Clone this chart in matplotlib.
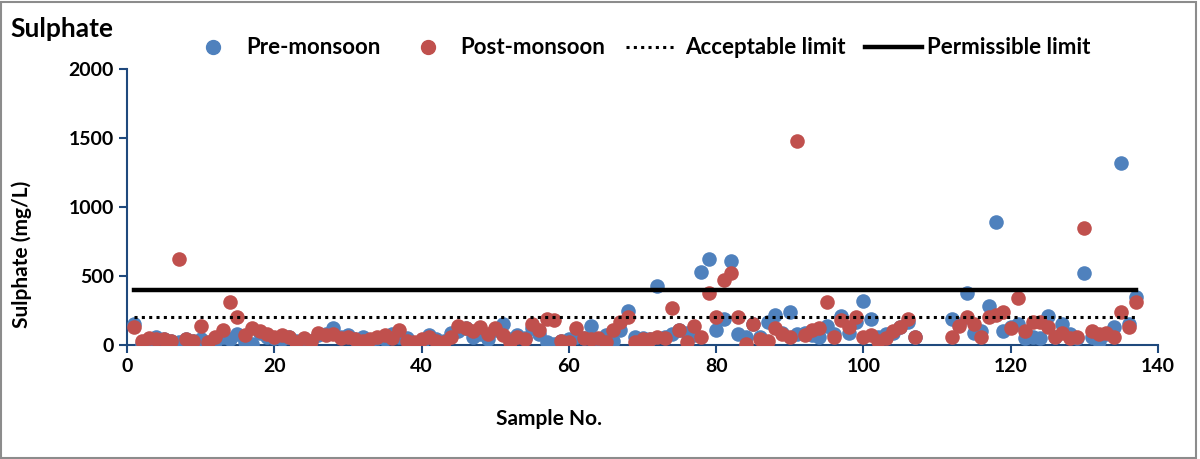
import numpy as np
import matplotlib
matplotlib.use("Agg")
import matplotlib.pyplot as plt
from matplotlib.lines import Line2D
from matplotlib.patches import Rectangle

nan = np.nan
samples = list(range(1, 138))
pre_monsoon = [150, 10, 40, 60, 40, 30, 20, 40, 30, 40,
               10, 20, 60, 40, 80, 20, 10, 90, 60, 50,
               40, 60, 30, 40, 30, 70, 80, 120, 60, 70,
               40, 60, 30, 50, 40, 80, 60, 50, 10, 20,
               70, 40, 30, 90, 100, 120, 60, 80, 40, 110,
               150, 40, 70, 50, 120, 80, 20, 5, 30, 40,
               60, 50, 140, 40, 70, 30, 110, 250, 60, 50,
               40, 430, 60, 80, 110, 90, 70, 530, 620, 110,
               190, 610, 80, 60, 150, 60, 170, 220, 90, 240,
               80, 90, 70, 60, 140, 80, 210, 90, 170, 320,
               190, 60, 80, 90, 130, 170, 60, nan, nan, nan,
               nan, 190, 150, 380, 90, 100, 280, 890, 100, 130,
               150, 50, 60, 50, 210, 60, 150, 80, 50, 520,
               60, 30, 80, 130, 1320, 150, 350]
post_monsoon = [130, 30, 50, 40, 40, 30, 625, 40, 30, 140,
                20, 60, 110, 310, 200, 70, 120, 100, 80, 60,
                70, 60, 20, 50, 30, 90, 70, 80, 50, 60,
                40, 30, 40, 60, 70, 50, 110, 30, 20, 40,
                60, 30, 20, 60, 140, 120, 100, 130, 80, 120,
                70, 20, 60, 40, 150, 110, 190, 180, 30, 20,
                120, 50, 40, 50, 20, 110, 170, 200, 20, 40,
                40, 60, 50, 270, 110, 20, 140, 60, 380, 200,
                470, 520, 200, 10, 150, 40, 30, 120, 80, 60,
                1480, 70, 110, 120, 310, 60, 180, 130, 200, 60,
                70, 30, 50, 100, 130, 190, 60, nan, nan, nan,
                nan, 60, 140, 200, 150, 60, 200, 220, 240, 120,
                340, 100, 170, 170, 130, 60, 90, 50, 60, 850,
                100, 80, 90, 60, 240, 130, 310]
acceptable_limit = 200
permissible_limit = 400
limit_x = [1, 137]
legend_labels = ['Pre-monsoon', 'Post-monsoon', 'Acceptable limit', 'Permissible limit']

plt.rcParams['font.family'] = ['Lato', 'DejaVu Sans']
plt.rcParams['font.weight'] = 'bold'

W, H = 1200, 459
fig = plt.figure(figsize=(W / 100, H / 100), dpi=100)
ax = fig.add_axes([127 / W, (H - 345) / H, 1031 / W, 276 / H])

blue = '#4F81BD'
red = '#C0504D'
spine_c = '#1F497D'
msize = 110

ax.scatter(samples, pre_monsoon, s=msize, color=blue, zorder=3, linewidths=0)
ax.scatter(samples, post_monsoon, s=msize, color=red, zorder=4, linewidths=0)
dot_style = (0, (1, 1.4))
ax.plot(limit_x, [acceptable_limit] * 2, color='black', lw=2.2,
        linestyle=dot_style, zorder=5)
ax.plot(limit_x, [permissible_limit] * 2, color='black', lw=3.2, zorder=5)

ax.set_xlim(0, 140)
ax.set_ylim(0, 2000)
ax.set_xticks(range(0, 141, 20))
ax.set_yticks(range(0, 2001, 500))
for s in ['top', 'right']:
    ax.spines[s].set_visible(False)
for s in ['left', 'bottom']:
    ax.spines[s].set_color(spine_c)
    ax.spines[s].set_linewidth(1.5)
ax.tick_params(axis='both', direction='out', length=6, width=1.5,
               color=spine_c, labelsize=14)
for lbl in ax.get_xticklabels() + ax.get_yticklabels():
    lbl.set_fontweight('bold')

ax.set_ylabel('Sulphate (mg/L)', fontsize=15, fontweight='bold', va='center', ha='center')
ax.yaxis.set_label_coords((22 - 127) / 1031, (345 - 254) / 276)
ax.set_xlabel('Sample No.', fontsize=15, fontweight='bold', va='center', ha='center')
ax.xaxis.set_label_coords((549 - 127) / 1031, (345 - 419) / 276)

fig.text(10 / W, 1 - 29 / H, 'Sulphate', fontsize=19, fontweight='bold', va='center')

# legend (manual placement to match reference)
ly = 1 - 47 / H
fig.add_artist(Line2D([213 / W], [ly], marker='o', color=blue, markersize=10,
                      linestyle='none', transform=fig.transFigure))
fig.add_artist(Line2D([428 / W], [ly], marker='o', color=red, markersize=10,
                      linestyle='none', transform=fig.transFigure))
fig.add_artist(Line2D([626 / W, 674 / W], [ly, ly], color='black', lw=2.2,
                      linestyle=dot_style, transform=fig.transFigure))
fig.add_artist(Line2D([865 / W, 922 / W], [ly, ly], color='black', lw=3.2,
                      transform=fig.transFigure))
for xpx, lab in zip([246, 460, 685, 927], legend_labels):
    fig.text(xpx / W, ly, lab, fontsize=16, fontweight='bold', va='center', ha='left')

fig.patches.append(Rectangle((0.001, 0.003), 0.996, 0.993, transform=fig.transFigure,
                             fill=False, edgecolor='#8C8C8C', lw=1.5))

fig.savefig('out.png', dpi=100)
